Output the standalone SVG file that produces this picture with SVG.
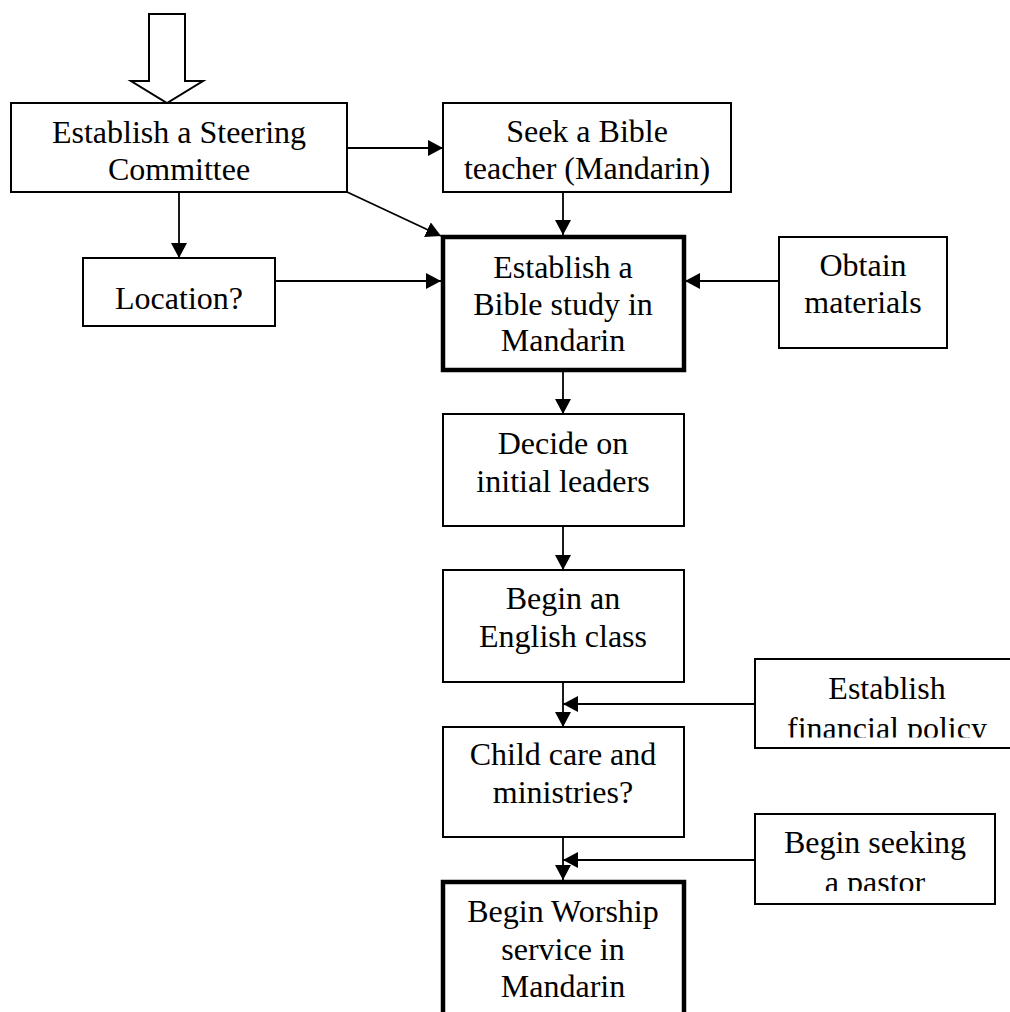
<svg xmlns="http://www.w3.org/2000/svg" width="1010" height="1012" viewBox="0 0 1010 1012">
<style>
.box{fill:#fff;stroke:#000;stroke-width:2}
.thick{fill:#fff;stroke:#000;stroke-width:4.5}
.t{font-family:"Liberation Serif","Times New Roman",serif;font-size:32px;fill:#000;text-anchor:middle}
.c{fill:none;stroke:#000;stroke-width:1.8}
</style>
<defs>
<marker id="ah" markerUnits="userSpaceOnUse" markerWidth="16" markerHeight="16" viewBox="0 0 16 16" refX="15" refY="8" orient="auto">
<path d="M0,0 L15,8 L0,16 Z" fill="#000"/>
</marker>
<clipPath id="clipFin"><rect x="740" y="650" width="280" height="87.5"/></clipPath>
<clipPath id="clipPastor"><rect x="740" y="805" width="280" height="86"/></clipPath>
</defs>
<rect width="1010" height="1012" fill="#fff"/>

<g id="connectors">
<line class="c" x1="347" y1="148" x2="443" y2="148" marker-end="url(#ah)"/>
<line class="c" x1="179" y1="192" x2="179" y2="258" marker-end="url(#ah)"/>
<line class="c" x1="347" y1="192" x2="441" y2="236" marker-end="url(#ah)"/>
<line class="c" x1="275" y1="281" x2="441" y2="281" marker-end="url(#ah)"/>
<line class="c" x1="563" y1="192" x2="563" y2="235" marker-end="url(#ah)"/>
<line class="c" x1="779" y1="281" x2="685" y2="281" marker-end="url(#ah)"/>
<line class="c" x1="563" y1="372" x2="563" y2="414" marker-end="url(#ah)"/>
<line class="c" x1="563" y1="526" x2="563" y2="570" marker-end="url(#ah)"/>
<line class="c" x1="563" y1="682" x2="563" y2="727" marker-end="url(#ah)"/>
<line class="c" x1="755" y1="704" x2="563" y2="704" marker-end="url(#ah)"/>
<line class="c" x1="563" y1="837" x2="563" y2="880" marker-end="url(#ah)"/>
<line class="c" x1="755" y1="860" x2="563" y2="860" marker-end="url(#ah)"/>
</g>

<g id="start-arrow">
<polygon points="149,14 185,14 185,81 203,81 167,103 131,81 149,81" fill="#fff" stroke="#000" stroke-width="2"/>
</g>

<g id="steering">
<rect class="box" x="11" y="103" width="336" height="89"/>
<text class="t" x="179" y="143">Establish a Steering</text>
<text class="t" x="179" y="180">Committee</text>
</g>

<g id="seek-teacher">
<rect class="box" x="443" y="103" width="288" height="89"/>
<text class="t" x="587" y="142">Seek a Bible</text>
<text class="t" x="587" y="179">teacher (Mandarin)</text>
</g>

<g id="location">
<rect class="box" x="83" y="258" width="192" height="68"/>
<text class="t" x="179" y="309">Location?</text>
</g>

<g id="bible-study">
<rect class="thick" x="443" y="237" width="241" height="133"/>
<text class="t" x="563" y="278">Establish a</text>
<text class="t" x="563" y="315">Bible study in</text>
<text class="t" x="563" y="351">Mandarin</text>
</g>

<g id="materials">
<rect class="box" x="779" y="237" width="168" height="111"/>
<text class="t" x="863" y="276">Obtain</text>
<text class="t" x="863" y="313">materials</text>
</g>

<g id="leaders">
<rect class="box" x="443" y="414" width="241" height="112"/>
<text class="t" x="563" y="454">Decide on</text>
<text class="t" x="563" y="492">initial leaders</text>
</g>

<g id="english">
<rect class="box" x="443" y="570" width="241" height="112"/>
<text class="t" x="563" y="609">Begin an</text>
<text class="t" x="563" y="647">English class</text>
</g>

<g id="financial">
<rect class="box" x="755" y="659" width="270" height="89"/>
<g clip-path="url(#clipFin)">
<text class="t" x="887" y="699">Establish</text>
<text class="t" x="887" y="739">financial policy</text>
</g>
</g>

<g id="childcare">
<rect class="box" x="443" y="727" width="241" height="110"/>
<text class="t" x="563" y="765">Child care and</text>
<text class="t" x="563" y="803">ministries?</text>
</g>

<g id="pastor">
<rect class="box" x="755" y="814" width="240" height="90"/>
<g clip-path="url(#clipPastor)">
<text class="t" x="875" y="853">Begin seeking</text>
<text class="t" x="875" y="893">a pastor</text>
</g>
</g>

<g id="worship">
<rect class="thick" x="443" y="882" width="241" height="140"/>
<text class="t" x="563" y="922">Begin Worship</text>
<text class="t" x="563" y="960">service in</text>
<text class="t" x="563" y="997">Mandarin</text>
</g>
</svg>
